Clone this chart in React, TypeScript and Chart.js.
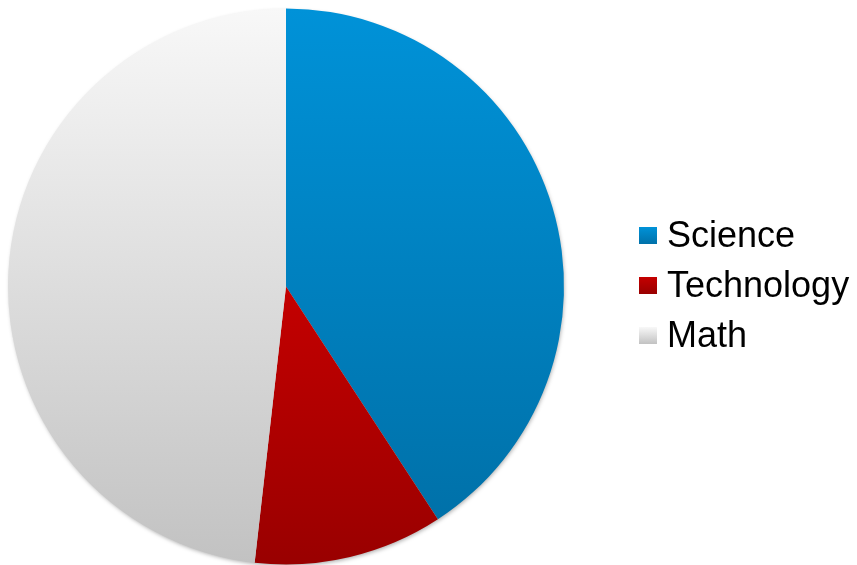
import React, { useEffect, useRef } from "react";
import { Chart, registerables } from "chart.js";

Chart.register(...registerables);

const categories = ["Science", "Technology", "Math"];
const values = [40.8, 11.0, 48.2];
const topColors = ["#0092d8", "#c40000", "#f8f8f8"];
const bottomColors = ["#0071a9", "#990000", "#c2c2c2"];

function sliceYRange(chart: any, index: number) {
  const area = chart.chartArea;
  const cx = (area.left + area.right) / 2;
  const cy = (area.top + area.bottom) / 2;
  const r = Math.min(area.right - area.left, area.bottom - area.top) / 2;
  const total = values.reduce((a, b) => a + b, 0);
  let start = -Math.PI / 2;
  for (let i = 0; i < index; i++) start += (values[i] / total) * Math.PI * 2;
  const end = start + (values[index] / total) * Math.PI * 2;
  const ys = [cy, cy + r * Math.sin(start), cy + r * Math.sin(end)];
  const checks = [Math.PI / 2, -Math.PI / 2, (3 * Math.PI) / 2];
  for (const a of checks) {
    if (a >= start && a <= end) ys.push(cy + r * Math.sin(a));
  }
  return { y0: Math.min(...ys), y1: Math.max(...ys) };
}

function makeGradient(chart: any, index: number, y0: number, y1: number) {
  const g = chart.ctx.createLinearGradient(0, y0, 0, y1);
  g.addColorStop(0, topColors[index]);
  g.addColorStop(1, bottomColors[index]);
  return g;
}

const shadowPlugin = {
  id: "pieShadow",
  beforeDatasetsDraw(chart: any) {
    const area = chart.chartArea;
    const cx = (area.left + area.right) / 2;
    const cy = (area.top + area.bottom) / 2;
    const r = Math.min(area.right - area.left, area.bottom - area.top) / 2;
    const ctx = chart.ctx;
    ctx.save();
    ctx.shadowColor = "rgba(0,0,0,0.35)";
    ctx.shadowBlur = 4;
    ctx.shadowOffsetX = 1;
    ctx.shadowOffsetY = 2;
    ctx.beginPath();
    ctx.arc(cx, cy, r - 1, 0, Math.PI * 2);
    ctx.fillStyle = "#cccccc";
    ctx.fill();
    ctx.restore();
  },
};

const legendPlugin = {
  id: "customLegend",
  afterDraw(chart: any) {
    const ctx = chart.ctx;
    ctx.save();
    ctx.font = "36px 'Liberation Sans', Arial, sans-serif";
    ctx.textBaseline = "alphabetic";
    ctx.fillStyle = "#000000";
    const boxX = 639;
    const textX = 667;
    const baseY = 247;
    const step = 50;
    categories.forEach((name, i) => {
      const by = baseY + i * step;
      const top = by - 20;
      const g = ctx.createLinearGradient(0, top, 0, top + 17);
      g.addColorStop(0, topColors[i]);
      g.addColorStop(1, bottomColors[i]);
      ctx.fillStyle = g;
      ctx.fillRect(boxX, top, 18, 17);
      ctx.fillStyle = "#000000";
      ctx.fillText(name, textX, by);
    });
    ctx.restore();
  },
};

export default function App() {
  const ref = useRef<HTMLCanvasElement>(null);
  useEffect(() => {
    if (!ref.current) return;
    const chart = new Chart(ref.current, {
      type: "pie",
      data: {
        labels: categories,
        datasets: [
          {
            data: values,
            borderWidth: 0,
            backgroundColor: (ctx: any) => {
              const chart = ctx.chart;
              if (!chart.chartArea) return topColors[ctx.dataIndex];
              const { y0, y1 } = sliceYRange(chart, ctx.dataIndex);
              return makeGradient(chart, ctx.dataIndex, y0, y1);
            },
          },
        ],
      },
      options: {
        responsive: false,
        animation: false,
        layout: { padding: { left: 8, top: 8, right: 293, bottom: 0 } },
        plugins: {
          legend: { display: false },
          tooltip: { enabled: false },
        },
      },
      plugins: [shadowPlugin, legendPlugin],
    });
    return () => chart.destroy();
  }, []);
  return (
    <div style={{ position: "fixed", left: 0, top: 0, width: 857, height: 565, background: "#ffffff" }}>
      <canvas ref={ref} width={857} height={565} style={{ display: "block" }} />
    </div>
  );
}
